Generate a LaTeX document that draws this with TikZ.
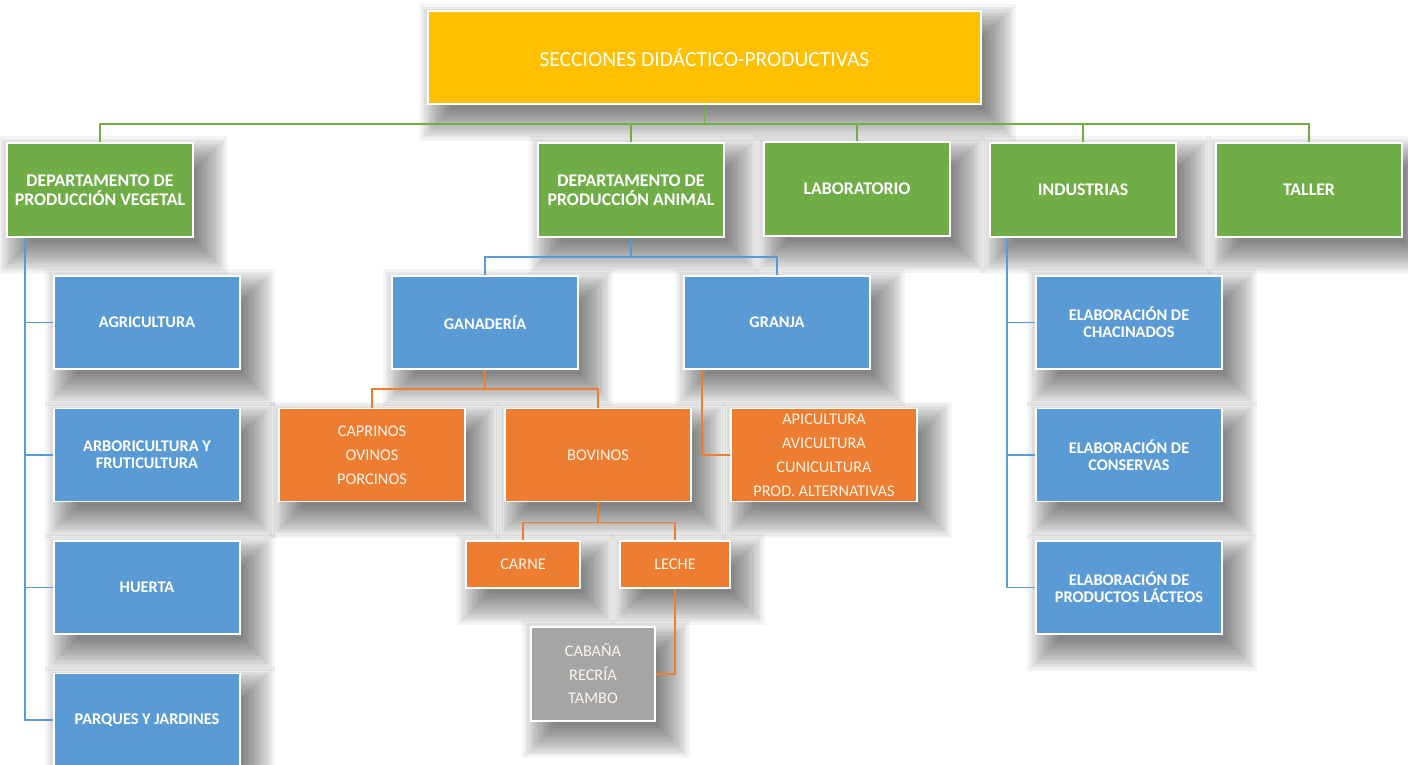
\documentclass[tikz,border=0pt]{standalone}
\usepackage{fontspec}
\setmainfont{Carlito}
\usetikzlibrary{calc}
\pgfdeclarelayer{bg}
\pgfsetlayers{bg,main}
\definecolor{cyellow}{HTML}{FFC000}
\definecolor{cgreen}{HTML}{70AD47}
\definecolor{cblue}{HTML}{5B9BD5}
\definecolor{corange}{HTML}{ED7D31}
\definecolor{cgray}{HTML}{A5A5A5}
\definecolor{ctext}{HTML}{FFF4EA}
\tikzset{
  box/.style={draw=white, line width=1.8pt, text=white, align=center,
    inner sep=0pt, minimum width=186pt, minimum height=93pt},
  titlebox/.style={box, fill=cyellow, minimum width=553pt, font=\fontsize{21.5}{24}\selectfont},
  gbox/.style={box, fill=cgreen, minimum height=94pt, font=\fontsize{17.8}{19.5}\selectfont\bfseries},
  bbox/.style={box, fill=cblue, font=\fontsize{16.3}{17}\selectfont\bfseries},
  obox/.style={box, fill=corange, text=ctext, font=\fontsize{16.3}{24}\selectfont},
  sbox/.style={box, fill=corange, text=ctext, minimum height=47pt, font=\fontsize{16.3}{24}\selectfont},
  graybox/.style={box, fill=cgray, text=ctext, minimum width=124pt, minimum height=94pt, font=\fontsize{16.3}{23.5}\selectfont},
  gline/.style={draw=cgreen, line width=1.8pt},
  bline/.style={draw=cblue, line width=1.8pt},
  oline/.style={draw=corange, line width=1.8pt},
  shadowlayer/.style={fill=black, opacity=0.042},
}
\begin{document}
\begin{tikzpicture}[x=1pt, y=-1pt]
\useasboundingbox (0,0) rectangle (1408,764);
\begin{pgfonlayer}{bg}
\fill[white] (0,0) rectangle (1408,764);
\end{pgfonlayer}
% level 0
\node[titlebox] (title) at (704.5,57.5) {SECCIONES DIDÁCTICO-PRODUCTIVAS};
% level 1
\node[gbox] (veg) at (100,190) {DEPARTAMENTO DE\\PRODUCCIÓN VEGETAL};
\node[gbox] (ani) at (631,190) {DEPARTAMENTO DE\\PRODUCCIÓN ANIMAL};
\node[gbox] (lab) at (857,189) {LABORATORIO};
\node[gbox] (ind) at (1083,190) {INDUSTRIAS};
\node[gbox] (tal) at (1309,190) {TALLER};
% vegetal children
\node[bbox] (agri) at (147,322.5) {AGRICULTURA};
\node[bbox] (arbo) at (147,455) {ARBORICULTURA Y\\FRUTICULTURA};
\node[bbox] (huer) at (147,587.5) {HUERTA};
\node[bbox] (parq) at (147,720) {PARQUES Y JARDINES};
% animal children
\node[bbox] (gan) at (485,322.5) {GANADERÍA};
\node[bbox] (gra) at (777,322.5) {GRANJA};
\node[obox] (cap) at (372,455) {CAPRINOS\\OVINOS\\PORCINOS};
\node[obox] (bov) at (598,455) {BOVINOS};
\node[obox] (api) at (824,455) {APICULTURA\\AVICULTURA\\CUNICULTURA\\PROD. ALTERNATIVAS};
\node[sbox, minimum width=114pt] (car) at (523,564.5) {CARNE};
\node[sbox, minimum width=110pt] (lec) at (675,564.5) {LECHE};
\node[graybox] (cab) at (593,674) {CABAÑA\\RECRÍA\\TAMBO};
% industrias children
\node[bbox] (cha) at (1129,322.5) {ELABORACIÓN DE\\CHACINADOS};
\node[bbox] (con) at (1129,455) {ELABORACIÓN DE\\CONSERVAS};
\node[bbox] (lac) at (1129,587.5) {ELABORACIÓN DE\\PRODUCTOS LÁCTEOS};
% soft shadows
\begin{pgfonlayer}{bg}
\foreach \n in {title,veg,ani,lab,ind,tal,agri,arbo,huer,parq,gan,gra,cap,bov,api,car,lec,cab,cha,con,lac} {
  \foreach \k in {0,...,13} {
    \pgfmathsetmacro\e{-14+2.46*\k}
    \fill[shadowlayer] ($(\n.north west)+(10-\e,12-\e)$) rectangle ($(\n.south east)+(16+\e,18+\e)$);
  }
}
\end{pgfonlayer}
% connectors
\foreach \c in {veg,ani,lab,ind,tal}
  \draw[gline] (title.south) -- ++(0,19) -| (\c.north);
\coordinate (vt) at ($(veg.south west)+(19,0)$);
\foreach \c in {agri,arbo,huer,parq}
  \draw[bline] (vt) |- (\c.west);
\foreach \c in {gan,gra}
  \draw[bline] (ani.south) -- ++(0,19) -| (\c.north);
\coordinate (it) at ($(ind.south west)+(18,0)$);
\foreach \c in {cha,con,lac}
  \draw[bline] (it) |- (\c.west);
\foreach \c in {cap,bov}
  \draw[oline] (gan.south) -- ++(0,19) -| (\c.north);
\coordinate (gt) at ($(gra.south west)+(19,0)$);
\draw[oline] (gt) |- (api.west);
\foreach \c in {car,lec}
  \draw[oline] (bov.south) -- ++(0,20) -| (\c.north);
\draw[oline] (lec.south) |- (cab.east);
\end{tikzpicture}
\end{document}
